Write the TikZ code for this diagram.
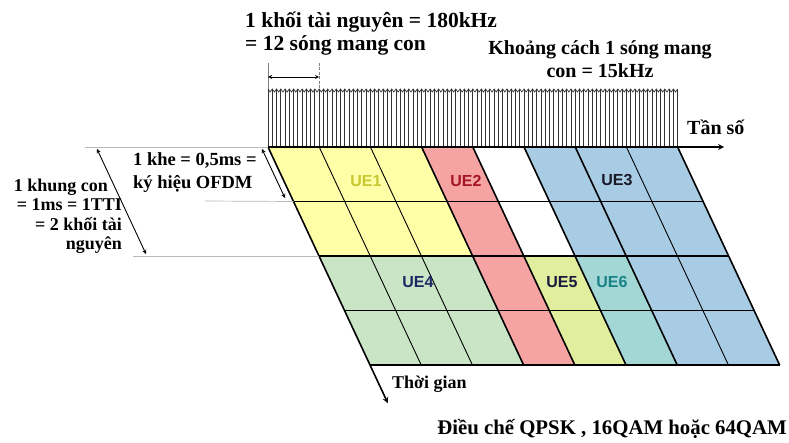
\documentclass[tikz,border=0pt]{standalone}
\usepackage{fontspec}
\setmainfont{Liberation Serif}
\newfontfamily\uefont{Liberation Sans}

\definecolor{ueyellow}{HTML}{FFFFA8}
\definecolor{uered}{HTML}{F6A3A3}
\definecolor{ueblue}{HTML}{A8CCE4}
\definecolor{uegreen}{HTML}{C9E5C6}
\definecolor{uelime}{HTML}{E1EE9E}
\definecolor{ueteal}{HTML}{A2D7D6}

\begin{document}
\begin{tikzpicture}[x=1pt, y=-1pt, >=stealth,
  bigtxt/.style={font=\bfseries\fontsize{20}{23}\selectfont, inner sep=0pt},
  smalltxt/.style={font=\bfseries\fontsize{18}{21}\selectfont, inner sep=0pt},
  ue/.style={font=\uefont\bfseries\fontsize{16}{18}\selectfont, inner sep=0pt},
  guide/.style={gray!55, line width=0.7pt},
  heavy/.style={line width=1.6pt},
  light/.style={line width=0.9pt}]
  \useasboundingbox (0,0) rectangle (789,443);

  % Resource grid: 8 resource blocks x 4 slots, slanted along time
  \begin{scope}[shift={(268,147)}, x={(51.2pt,0pt)}, y={(25.5pt,-54.5pt)}]
    \fill[ueyellow] (0,0) -- (3,0) -- (3,2) -- (0,2) -- cycle;
    \fill[uered]    (3,0) -- (4,0) -- (4,4) -- (3,4) -- cycle;
    \fill[ueblue]   (5,0) -- (8,0) -- (8,4) -- (6,4) -- (6,2) -- (5,2) -- cycle;
    \fill[uegreen]  (0,2) -- (3,2) -- (3,4) -- (0,4) -- cycle;
    \fill[uelime]   (4,2) -- (5,2) -- (5,4) -- (4,4) -- cycle;
    \fill[ueteal]   (5,2) -- (6,2) -- (6,4) -- (5,4) -- cycle;

    \foreach \j in {1,...,4}
      \draw[heavy] (0,\j) -- (8,\j);
    \foreach \i in {1,2,7}
      \draw[light] (\i,0) -- (\i,4);
    \foreach \i in {3,4,5,6,8}
      \draw[heavy] (\i,0) -- (\i,4);

    \coordinate (o) at (0,0);
    \coordinate (tEnd) at (0,4.7);
    \coordinate (slotEdge) at (0,1);
    \coordinate (subEdge) at (0,2);
  \end{scope}

  % Subcarriers
  \foreach \k in {0,...,96}
    \draw[gray!40!black, line width=0.9pt] ({268+\k*4.267},147) -- ({268+\k*4.267},89);
  \draw[gray!40!black, line width=0.7pt] (268,89)
    foreach \k in {0,...,95} { -- ({268+(\k+0.5)*4.267},92) -- ({268+(\k+1)*4.267},89) };

  % Axes
  \coordinate (fEnd) at (724,147);
  \draw[heavy,->] (o) -- (fEnd);
  \draw[heavy,->] (o) -- (tEnd);

  % One resource block
  \coordinate (rbTopL) at (268,63);
  \coordinate (rbTopR) at (319.2,63);
  \coordinate (rbL) at (268,77);
  \coordinate (rbR) at (319.2,77);
  \draw[gray, line width=0.6pt] (rbTopL) -- (268,89);
  \draw[gray, line width=0.6pt, dash pattern=on 3pt off 1.5pt] (rbTopR) -- (319.2,89);
  \draw[line width=0.9pt,<->] (rbL) -- (rbR);

  % Slot and subframe
  \coordinate (g1) at (85,147);
  \coordinate (g2) at (205,201);
  \coordinate (g3) at (133,256);
  \draw[guide] (g1) -- (o);
  \draw[guide] (g2) -- (slotEdge);
  \draw[guide] (g3) -- (subEdge);
  \coordinate (slotA) at (262,149);
  \coordinate (slotB) at (285,198);
  \coordinate (subA) at (97,149);
  \coordinate (subB) at (146,254);
  \draw[line width=0.9pt,<->] (slotA) -- (slotB);
  \draw[line width=0.9pt,<->] (subA) -- (subB);

  % Labels
  \node[bigtxt, anchor=west, align=left, font=\bfseries\fontsize{21.5}{23}\selectfont] (rbTxt) at (245,34) {1 khối tài nguyên = 180kHz\\= 12 sóng mang con};
  \node[bigtxt, align=center] (spcTxt) at (600,59) {Khoảng cách 1 sóng mang\\con = 15kHz};
  \node[bigtxt, anchor=west] (freqTxt) at (687,127) {Tần số};
  \node[smalltxt, anchor=west, align=left, font=\bfseries\fontsize{18.5}{23}\selectfont] (slotTxt) at (133,173) {1 khe = 0,5ms =\\ký hiệu OFDM};
  \node[smalltxt, anchor=east, align=right, font=\bfseries\fontsize{18}{19.5}\selectfont] (subTxt) at (122,216)
    {1 khung con\hspace*{14pt}\\= 1ms = 1TTI\hspace*{3pt}\\= 2 khối tài\hspace*{10pt}\\nguyên};
  \node[smalltxt, anchor=west] (timeTxt) at (392,384) {Thời gian};
  \node[bigtxt, anchor=east, font=\bfseries\fontsize{20.8}{23}\selectfont] (modTxt) at (787,429) {Điều chế QPSK , 16QAM hoặc 64QAM};

  \node[ue, text={rgb,255:red,200;green,200;blue,50}] (ue1) at (366,181) {UE1};
  \node[ue, text={rgb,255:red,165;green,20;blue,40}] (ue2) at (466,181) {UE2};
  \node[ue, text={rgb,255:red,25;green,25;blue,40}] (ue3) at (617,180) {UE3};
  \node[ue, text={rgb,255:red,30;green,40;blue,100}] (ue4) at (418,282) {UE4};
  \node[ue, text={rgb,255:red,25;green,25;blue,60}] (ue5) at (562,282) {UE5};
  \node[ue, text={rgb,255:red,25;green,130;blue,135}] (ue6) at (612,282) {UE6};
\end{tikzpicture}
\end{document}
